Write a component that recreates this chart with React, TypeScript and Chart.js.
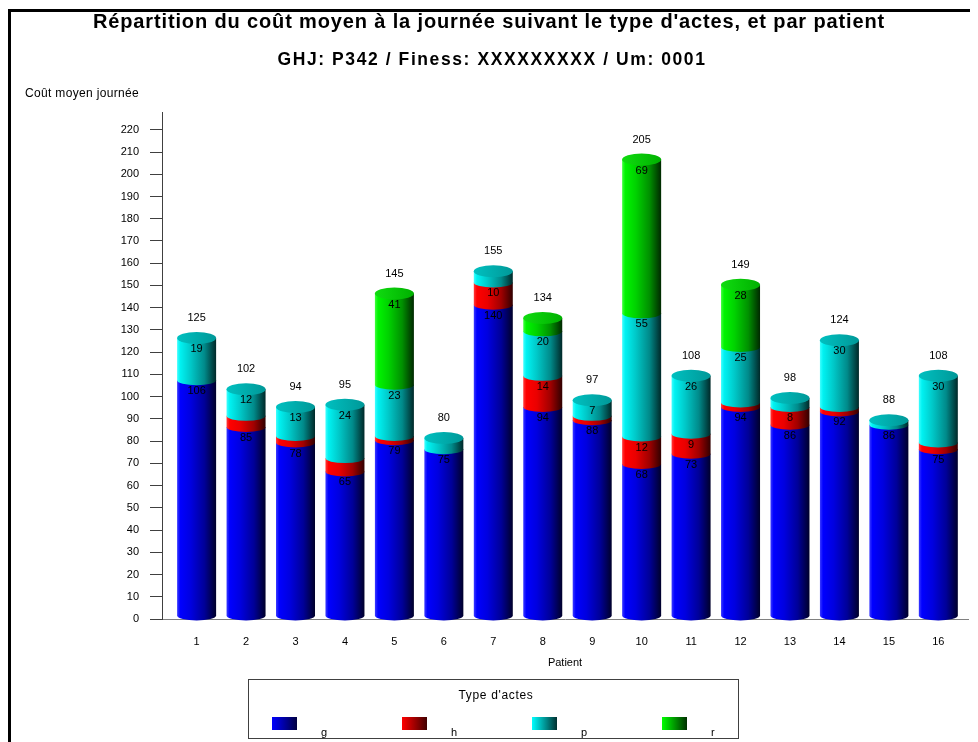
import React, { useEffect, useRef } from 'react';
import { Chart, registerables } from 'chart.js';

Chart.register(...registerables);

// ---- data -------------------------------------------------------------
const PATIENTS = ['1', '2', '3', '4', '5', '6', '7', '8', '9', '10', '11', '12', '13', '14', '15', '16'];
const ACT_TYPES = ['g', 'h', 'p', 'r'];
const COST_G = [106, 85, 78, 65, 79, 75, 140, 94, 88, 68.4, 73, 94, 86, 92, 86, 75];
const COST_H = [0, 5, 3, 6, 2, 0, 10, 14, 2, 12.3, 9, 2, 8, 2, 0, 3];
const COST_P = [19, 12, 13, 24, 23, 5, 5, 20, 7, 55.4, 26, 25, 4, 30, 2, 30];
const COST_R = [0, 0, 0, 0, 41, 0, 0, 6, 0, 69.2, 0, 28, 0, 0, 0, 0];
const Y_TICKS = [0, 10, 20, 30, 40, 50, 60, 70, 80, 90, 100, 110, 120, 130, 140, 150, 160, 170, 180, 190, 200, 210, 220];

const TITLE = "Répartition du coût moyen à la journée suivant le type d'actes, et par patient";
const SUBTITLE = 'GHJ: P342 / Finess: XXXXXXXXX / Um: 0001';
const Y_TITLE = 'Coût moyen journée';
const X_TITLE = 'Patient';
const LEGEND_TITLE = "Type d'actes";

// ---- styling ----------------------------------------------------------
const FONT = '"Liberation Sans", Arial, sans-serif';
const W = 970;
const H = 734;

type Stop = [number, string];
const BODY_SHADES: Stop[][] = [
  [[0, '#3a3aff'], [0.08, '#0000ff'], [0.35, '#0000e0'], [0.7, '#000098'], [1, '#00002a']],
  [[0, '#ff3a3a'], [0.08, '#ff0000'], [0.35, '#ea0000'], [0.7, '#a00000'], [1, '#300000']],
  [[0, '#40ffff'], [0.08, '#00f2f2'], [0.35, '#00c8c8'], [0.7, '#008a8a'], [1, '#002828']],
  [[0, '#40ff40'], [0.08, '#00f400'], [0.35, '#00d200'], [0.7, '#009000'], [1, '#002800']],
];
const CAP_SHADES: [string, string][] = [
  ['#2020d8', '#0000a8'],
  ['#e01010', '#b00000'],
  ['#00c0c0', '#009898'],
  ['#10dc10', '#00b000'],
];
const SWATCH_SHADES: [string, string][] = [
  ['#0000ff', '#000040'],
  ['#ff0000', '#400000'],
  ['#00ffff', '#003030'],
  ['#00ff00', '#003000'],
];
const SOLID = ['#0000e0', '#e00000', '#00c0c0', '#00d000'];

const CAP_RY = 6; // half-height of the elliptical top of a cylinder
const RIM_RY = 5; // half-height of the curved joint between stacked pieces
const LIFT = 3; // cylinders sit slightly above the floor line
const MIN_LABEL = 7; // smaller pieces are left unlabelled

function hGradient(ctx: CanvasRenderingContext2D, left: number, right: number, stops: Stop[]) {
  const g = ctx.createLinearGradient(left, 0, right, 0);
  stops.forEach(([o, c]) => g.addColorStop(o, c));
  return g;
}

// Draws text with a little letter spacing so that it spans the given width.
function spreadText(
  ctx: CanvasRenderingContext2D,
  text: string,
  x: number,
  y: number,
  width: number,
) {
  const c = ctx as any;
  c.letterSpacing = '0px';
  const natural = ctx.measureText(text).width;
  const gap = Math.max(0, (width - natural) / text.length);
  c.letterSpacing = `${gap}px`;
  ctx.fillText(text, x, y);
  c.letterSpacing = '0px';
}

const cylinderPlugin = {
  id: 'cylinders',
  beforeDatasetsDraw(chart: any) {
    const ctx: CanvasRenderingContext2D = chart.ctx;
    const yScale = chart.scales.y;
    const zeroY = yScale.getPixelForValue(0);
    const datasets = chart.data.datasets;
    ctx.save();
    for (let j = 0; j < PATIENTS.length; j++) {
      let total = 0;
      let topY: number | null = null;
      let topIdx = -1;
      let cx = 0;
      let w = 0;
      const labels: { text: string; x: number; y: number }[] = [];
      for (let i = 0; i < datasets.length; i++) {
        const v = datasets[i].data[j] as number;
        total += v;
        if (!v) continue;
        const el = chart.getDatasetMeta(i).data[j];
        const { x, y, base, width } = el.getProps(['x', 'y', 'base', 'width'], true);
        const left = x - width / 2;
        const right = x + width / 2;
        const top = y - LIFT;
        const onFloor = Math.abs(base - zeroY) < 0.5;
        const bottom = onFloor ? zeroY - 1 - RIM_RY : base - LIFT;
        ctx.beginPath();
        ctx.moveTo(left, top);
        ctx.lineTo(right, top);
        ctx.lineTo(right, bottom);
        ctx.ellipse(x, bottom, width / 2, RIM_RY, 0, 0, Math.PI, false);
        ctx.closePath();
        ctx.fillStyle = hGradient(ctx, left, right, BODY_SHADES[i]);
        ctx.fill();
        topY = top;
        topIdx = i;
        cx = x;
        w = width;
        if (v >= MIN_LABEL) labels.push({ text: String(Math.round(v)), x, y: top + 11 });
      }
      if (topY !== null) {
        const [c1, c2] = CAP_SHADES[topIdx];
        const g = ctx.createLinearGradient(cx - w / 2, 0, cx + w / 2, 0);
        g.addColorStop(0, c1);
        g.addColorStop(1, c2);
        ctx.beginPath();
        ctx.ellipse(cx, topY, w / 2, CAP_RY, 0, 0, Math.PI * 2);
        ctx.fillStyle = g;
        ctx.fill();
        ctx.fillStyle = '#000';
        ctx.font = `11px ${FONT}`;
        ctx.textAlign = 'center';
        ctx.textBaseline = 'middle';
        labels.forEach((l) => ctx.fillText(l.text, l.x, l.y));
        ctx.fillText(String(Math.round(total)), cx, topY - 20);
      }
    }
    ctx.restore();
    return false;
  },
  afterDraw(chart: any) {
    const ctx: CanvasRenderingContext2D = chart.ctx;
    const area = chart.chartArea;
    ctx.save();
    // frame
    ctx.fillStyle = '#000';
    ctx.fillRect(0, 1, W, 3);
    ctx.fillRect(0, 1, 3, H);
    // titles
    ctx.textAlign = 'center';
    ctx.textBaseline = 'alphabetic';
    ctx.font = `bold 20px ${FONT}`;
    spreadText(ctx, TITLE, 481, 20, 792);
    ctx.font = `bold 17.5px ${FONT}`;
    spreadText(ctx, SUBTITLE, 484, 57, 429);
    ctx.font = `12px ${FONT}`;
    ctx.textAlign = 'left';
    spreadText(ctx, Y_TITLE, 17, 89, 114);
    ctx.font = `11px ${FONT}`;
    ctx.textAlign = 'center';
    ctx.fillText(X_TITLE, (area.left + area.right) / 2, 658);
    // legend
    const bx = 240;
    const by = 671;
    const bw = 490;
    const bh = 59;
    ctx.strokeStyle = '#404040';
    ctx.lineWidth = 1;
    ctx.strokeRect(bx + 0.5, by + 0.5, bw, bh);
    ctx.fillStyle = '#000';
    ctx.textBaseline = 'middle';
    ctx.font = `12px ${FONT}`;
    spreadText(ctx, LEGEND_TITLE, bx + bw / 2 + 3, by + 17, 75);
    ctx.font = `11px ${FONT}`;
    chart.data.datasets.forEach((ds: any, i: number) => {
      const sx = bx + 24 + i * 130;
      const sy = by + 38;
      const g = ctx.createLinearGradient(sx, 0, sx + 25, 0);
      g.addColorStop(0, SWATCH_SHADES[i][0]);
      g.addColorStop(1, SWATCH_SHADES[i][1]);
      ctx.fillStyle = g;
      ctx.fillRect(sx, sy, 25, 13);
      ctx.fillStyle = '#000';
      ctx.textAlign = 'left';
      ctx.textBaseline = 'alphabetic';
      ctx.fillText(ds.label, sx + 49, by + 57);
    });
    ctx.restore();
  },
};

export default function App() {
  const canvasRef = useRef<HTMLCanvasElement>(null);

  useEffect(() => {
    const series = [COST_G, COST_H, COST_P, COST_R];
    const chart = new Chart(canvasRef.current as HTMLCanvasElement, {
      type: 'bar',
      data: {
        labels: PATIENTS,
        datasets: series.map((values, i) => ({
          label: ACT_TYPES[i],
          data: values,
          backgroundColor: SOLID[i],
          barThickness: 39,
        })),
      },
      options: {
        responsive: false,
        animation: false,
        events: [],
        layout: { padding: { top: 104, right: 10, bottom: 73, left: 0 } },
        plugins: {
          legend: { display: false },
          title: { display: false },
          tooltip: { enabled: false },
        },
        scales: {
          x: {
            type: 'linear',
            stacked: true,
            offset: false,
            min: 0.3,
            max: 16.6,
            afterBuildTicks: (s: any) => {
              s.ticks = PATIENTS.map((p) => ({ value: Number(p) }));
            },
            afterFit: (s: any) => {
              s.height = 50;
            },
            grid: { display: false, drawTicks: false },
            border: { display: true, color: '#808080' },
            ticks: { padding: 16, color: '#000', font: { size: 11, family: FONT }, autoSkip: false, maxRotation: 0 },
          },
          y: {
            stacked: true,
            min: 0,
            max: 228,
            afterBuildTicks: (s: any) => {
              s.ticks = Y_TICKS.map((v) => ({ value: v }));
            },
            afterFit: (s: any) => {
              s.width = 154;
            },
            grid: { drawOnChartArea: false, drawTicks: true, tickLength: 12, color: '#404040' },
            border: { display: true, color: '#404040' },
            ticks: { padding: 11, color: '#000', font: { size: 11, family: FONT } },
          },
        },
      } as any,
      plugins: [cylinderPlugin],
    });
    return () => chart.destroy();
  }, []);

  return <canvas ref={canvasRef} width={W} height={H} style={{ display: 'block', width: W, height: H }} />;
}
